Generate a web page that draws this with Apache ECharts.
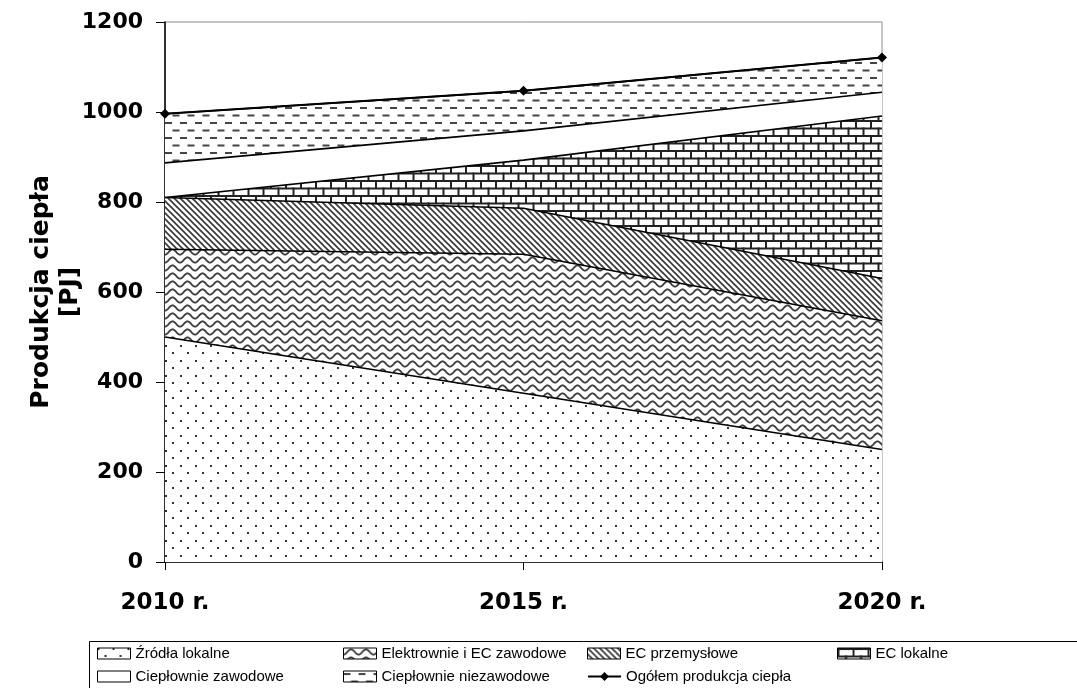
<!DOCTYPE html>
<html><head><meta charset="utf-8">
<script src="https://cdn.jsdelivr.net/npm/echarts@6/dist/echarts.min.js"></script>
<style>html,body{margin:0;padding:0;background:#fff}#c{width:1077px;height:688px}</style>
</head><body><div id="c"></div>
<script>
// ---- data ----
const years = ['2010 r.', '2015 r.', '2020 r.'];
const zrodlaLokalne = [500, 375, 250];
const elektrownieEC = [195, 309, 286];
const ecPrzemyslowe = [115, 102, 94];
const ecLokalne = [0, 107, 361];
const cieplownieZawodowe = [77, 65, 53];
const cieplownieNiezawodowe = [109, 89, 77];
const ogolem = [996, 1047, 1121];
const seriesNames = ['Źródła lokalne', 'Elektrownie i EC zawodowe', 'EC przemysłowe', 'EC lokalne',
  'Ciepłownie zawodowe', 'Ciepłownie niezawodowe', 'Ogółem produkcja ciepła'];
const yMin = 0, yMax = 1200, yStep = 200;

// ---- patterns ----
function tile(w, h, draw) {
  const c = document.createElement('canvas'); c.width = w; c.height = h;
  const g = c.getContext('2d'); g.fillStyle = '#fff'; g.fillRect(0, 0, w, h); draw(g, w, h);
  return { image: c, repeat: 'repeat' };
}
const patDots = tile(15, 15, g => { g.fillStyle = '#333'; g.fillRect(0, 0, 2, 2); g.fillRect(7, 7, 2, 2); });
const patWave = tile(15, 8, g => {
  g.strokeStyle = '#3c3c3c'; g.lineWidth = 1.8; g.beginPath();
  for (let x = -1; x <= 16; x += 0.5) { const y = 4 + 2.6 * Math.cos(x / 15 * 2 * Math.PI); x === -1 ? g.moveTo(x, y) : g.lineTo(x, y); }
  g.stroke();
});
const patDiag = tile(6, 6, g => {
  g.strokeStyle = '#3a3a3a'; g.lineWidth = 1.7;
  [-6, 0, 6].forEach(o => { g.beginPath(); g.moveTo(o - 1, -1); g.lineTo(o + 7, 7); g.stroke(); });
});
const patBrick = tile(15, 15, g => {
  g.fillStyle = '#222';
  g.fillRect(0, 0, 15, 2); g.fillRect(0, 7.5, 15, 2);
  g.fillRect(0, 0, 2, 9); g.fillRect(7.5, 7.5, 2, 7.5);
});
const patDash = tile(15, 15, g => {
  g.fillStyle = '#444'; g.fillRect(0, 2, 7, 2); g.fillRect(7.5, 9.5, 7, 2);
});
const patWhite = '#ffffff';

const fills = [patDots, patWave, patDiag, patBrick, patWhite, patDash];
const values = [zrodlaLokalne, elektrownieEC, ecPrzemyslowe, ecLokalne, cieplownieZawodowe, cieplownieNiezawodowe];

const series = values.map((v, i) => ({
  name: seriesNames[i], type: 'line', stack: 'total', data: v,
  symbol: 'none', smooth: false,
  lineStyle: { color: '#000', width: 1.6 },
  itemStyle: { color: '#000' },
  areaStyle: { color: fills[i], opacity: 1 },
  emphasis: { disabled: true }, z: 2
}));
series.push({
  name: seriesNames[6], type: 'line', data: ogolem,
  symbol: 'diamond', symbolSize: 10,
  lineStyle: { color: '#000', width: 2 },
  itemStyle: { color: '#000' }, z: 5, emphasis: { disabled: true }
});

const legendPos = [[97, 646], [343, 646], [587, 646], [837, 646], [97, 669], [343, 669], [587, 669]];
const legends = seriesNames.map((n, i) => ({
  left: legendPos[i][0], top: legendPos[i][1], padding: 0,
  itemWidth: 33, itemHeight: 11, selectedMode: false,
  textStyle: { fontFamily: 'Liberation Sans', fontSize: 15, color: '#000' },
  data: [i < 6 ? { name: n, icon: 'rect', itemStyle: { color: fills[i], borderColor: '#000', borderWidth: 1 } } : { name: n }]
}));

const chart = echarts.init(document.getElementById('c'), null, { renderer: 'canvas' });
chart.setOption({
  animation: false,
  backgroundColor: '#fff',
  grid: { left: 165, right: 195, top: 22, bottom: 126, show: true, borderColor: '#8c8c8c', borderWidth: 1, backgroundColor: 'transparent' },
  xAxis: {
    type: 'category', data: years, boundaryGap: false,
    axisLine: { lineStyle: { color: '#000', width: 1.5 } },
    axisTick: { show: true, length: 8, lineStyle: { color: '#000' } },
    axisLabel: { margin: 30, fontFamily: 'DejaVu Sans', fontWeight: 'bold', fontSize: 23, color: '#000' },
    splitLine: { show: false }
  },
  yAxis: {
    type: 'value', min: yMin, max: yMax, interval: yStep,
    name: 'Produkcja ciepła\n[PJ]', nameLocation: 'middle', nameGap: 80, nameRotate: 90, nameMoveOverlap: false,
    nameTextStyle: { fontFamily: 'DejaVu Sans', fontWeight: 'bold', fontSize: 25, color: '#000', lineHeight: 29 },
    axisLine: { show: true, lineStyle: { color: '#000', width: 1.5 } },
    axisTick: { show: true, length: 9, lineStyle: { color: '#000' } },
    axisLabel: { margin: 22, fontFamily: 'DejaVu Sans', fontWeight: 'bold', fontSize: 22, color: '#000', formatter: v => String(v) },
    splitLine: { show: false }
  },
  legend: legends,
  graphic: [{ type: 'rect', shape: { x: 89.5, y: 641.5, width: 1000, height: 60 }, style: { fill: 'none', stroke: '#000', lineWidth: 1 }, silent: true }],
  series: series
});
</script></body></html>
